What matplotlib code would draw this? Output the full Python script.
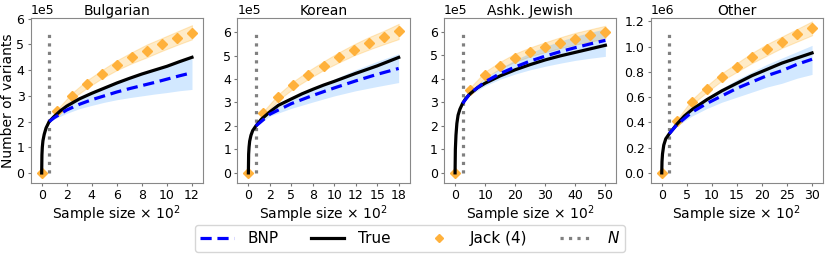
import matplotlib
matplotlib.use("Agg")
import matplotlib.pyplot as plt
from matplotlib.ticker import FormatStrFormatter
from matplotlib.lines import Line2D

# Valores (x en unidades de 10^2 muestras, y en unidades de escala)
titles = ["Bulgarian", "Korean", "Ashk. Jewish", "Other"]
scales = [1e5, 1e5, 1e5, 1e6]
n_train = [0.6, 0.875, 2.5, 1.5]

# Bulgarian
bul_true_x = [0, 0.02, 0.05, 0.1, 0.2, 0.35, 0.6, 1, 1.5, 2, 3, 4, 5, 6, 7, 8, 9, 10, 11, 12]
bul_true_y = [0, 0.7, 1.0, 1.25, 1.5, 1.75, 2.0, 2.2, 2.42, 2.6, 2.88, 3.1, 3.3, 3.5, 3.68, 3.85, 4.0, 4.15, 4.33, 4.5]
bul_bnp_x = [0.6, 1, 2, 3, 4, 5, 6, 7, 8, 9, 10, 11, 12]
bul_bnp_y = [2.0, 2.15, 2.45, 2.67, 2.85, 3.0, 3.15, 3.28, 3.4, 3.52, 3.65, 3.78, 3.9]
bul_bnp_lo = [2.0, 2.1, 2.32, 2.5, 2.63, 2.75, 2.85, 2.93, 3.0, 3.07, 3.13, 3.2, 3.25]
bul_bnp_hi = [2.0, 2.2, 2.6, 2.9, 3.12, 3.35, 3.55, 3.72, 3.9, 4.05, 4.2, 4.33, 4.45]
bul_jack_x = [0, 1.2, 2.4, 3.6, 4.8, 6.0, 7.2, 8.4, 9.6, 10.8, 12.0]
bul_jack_y = [0, 2.4, 3.0, 3.45, 3.85, 4.2, 4.5, 4.75, 5.0, 5.25, 5.45]
bul_band_x = [0.6, 1.2, 2.4, 3.6, 4.8, 6.0, 7.2, 8.4, 9.6, 10.8, 12.0]
bul_band_lo = [2.0, 2.33, 2.88, 3.3, 3.68, 4.0, 4.27, 4.5, 4.75, 4.98, 5.2]
bul_band_hi = [2.0, 2.45, 3.1, 3.6, 4.0, 4.38, 4.7, 5.0, 5.25, 5.5, 5.75]

# Korean
kor_true_x = [0, 0.03, 0.08, 0.15, 0.3, 0.5, 0.875, 1.5, 2.5, 3.5, 5, 6.25, 7.5, 8.75, 10, 11.25, 12.5, 13.75, 15, 16.25, 17.5]
kor_true_y = [0, 0.8, 1.1, 1.35, 1.6, 1.8, 2.0, 2.28, 2.6, 2.88, 3.15, 3.37, 3.56, 3.74, 3.9, 4.07, 4.24, 4.4, 4.56, 4.74, 4.92]
kor_bnp_x = [0.875, 2.5, 5, 7.5, 10, 12.5, 15, 17.5]
kor_bnp_y = [2.0, 2.5, 2.95, 3.3, 3.62, 3.92, 4.2, 4.45]
kor_bnp_lo = [2.0, 2.42, 2.75, 3.02, 3.28, 3.5, 3.68, 3.85]
kor_bnp_hi = [2.0, 2.6, 3.15, 3.6, 4.0, 4.4, 4.75, 5.08]
kor_jack_x = [0, 1.75, 3.5, 5.25, 7.0, 8.75, 10.5, 12.25, 14.0, 15.75, 17.5]
kor_jack_y = [0, 2.54, 3.22, 3.75, 4.17, 4.57, 4.93, 5.24, 5.53, 5.77, 6.03]
kor_band_x = [0.875, 1.75, 3.5, 5.25, 7.0, 8.75, 10.5, 12.25, 14.0, 15.75, 17.5]
kor_band_lo = [2.0, 2.45, 3.1, 3.6, 4.0, 4.38, 4.7, 5.0, 5.25, 5.48, 5.7]
kor_band_hi = [2.0, 2.62, 3.35, 3.9, 4.35, 4.75, 5.13, 5.47, 5.78, 6.05, 6.35]

# Ashk. Jewish
ash_true_x = [0, 0.1, 0.3, 0.6, 1.0, 1.6, 2.5, 3.5, 5, 7.5, 10, 15, 20, 25, 30, 35, 40, 45, 50]
ash_true_y = [0, 1.0, 1.6, 2.1, 2.45, 2.7, 2.95, 3.15, 3.36, 3.62, 3.81, 4.12, 4.38, 4.6, 4.8, 4.97, 5.12, 5.27, 5.42]
ash_bnp_x = [2.5, 5, 10, 15, 20, 25, 30, 35, 40, 45, 50]
ash_bnp_y = [2.95, 3.38, 3.87, 4.22, 4.5, 4.75, 4.96, 5.15, 5.32, 5.48, 5.63]
ash_bnp_lo = [2.95, 3.3, 3.7, 3.98, 4.2, 4.38, 4.53, 4.66, 4.78, 4.87, 4.95]
ash_bnp_hi = [2.95, 3.45, 4.02, 4.45, 4.8, 5.1, 5.37, 5.6, 5.8, 5.97, 6.12]
ash_jack_x = [0, 5, 10, 15, 20, 25, 30, 35, 40, 45, 50]
ash_jack_y = [0, 3.53, 4.17, 4.56, 4.89, 5.13, 5.33, 5.52, 5.70, 5.84, 5.97]
ash_band_x = [2.5, 5, 10, 15, 20, 25, 30, 35, 40, 45, 50]
ash_band_lo = [2.95, 3.45, 4.05, 4.42, 4.72, 4.95, 5.13, 5.3, 5.45, 5.58, 5.7]
ash_band_hi = [2.95, 3.62, 4.3, 4.72, 5.07, 5.33, 5.55, 5.76, 5.95, 6.1, 6.25]

# Other
oth_true_x = [0, 0.05, 0.15, 0.4, 0.8, 1.5, 3, 4.5, 6, 9, 12, 15, 18, 21, 24, 27, 30]
oth_true_y = [0, 0.09, 0.15, 0.22, 0.27, 0.31, 0.385, 0.45, 0.5, 0.58, 0.65, 0.71, 0.77, 0.82, 0.87, 0.91, 0.95]
oth_bnp_x = [1.5, 3, 6, 9, 12, 15, 18, 21, 24, 27, 30]
oth_bnp_y = [0.31, 0.38, 0.48, 0.55, 0.61, 0.67, 0.72, 0.77, 0.81, 0.86, 0.90]
oth_bnp_lo = [0.31, 0.37, 0.45, 0.51, 0.56, 0.6, 0.64, 0.68, 0.71, 0.75, 0.78]
oth_bnp_hi = [0.31, 0.39, 0.51, 0.6, 0.67, 0.74, 0.8, 0.86, 0.91, 0.96, 1.01]
oth_jack_x = [0, 3, 6, 9, 12, 15, 18, 21, 24, 27, 30]
oth_jack_y = [0, 0.41, 0.56, 0.667, 0.76, 0.84, 0.915, 0.98, 1.04, 1.10, 1.15]
oth_band_x = [1.5, 3, 6, 9, 12, 15, 18, 21, 24, 27, 30]
oth_band_lo = [0.31, 0.4, 0.54, 0.64, 0.73, 0.8, 0.87, 0.93, 0.99, 1.04, 1.09]
oth_band_hi = [0.31, 0.42, 0.58, 0.69, 0.79, 0.87, 0.95, 1.02, 1.08, 1.14, 1.2]

ylims = [(-0.39, 6.03), (-0.43, 6.6), (-0.43, 6.58), (-0.08, 1.227)]
xticks = [[0, 2, 4, 6, 8, 10, 12],
          [0, 2.5, 5, 7.5, 10, 12.5, 15, 17.5],
          [0, 10, 20, 30, 40, 50],
          [0, 5, 10, 15, 20, 25, 30]]
yticks = [[0, 1, 2, 3, 4, 5, 6],
          [0, 1, 2, 3, 4, 5, 6],
          [0, 1, 2, 3, 4, 5, 6],
          [0, 0.2, 0.4, 0.6, 0.8, 1.0, 1.2]]

panels = [
    (bul_true_x, bul_true_y, bul_bnp_x, bul_bnp_y, bul_bnp_lo, bul_bnp_hi, bul_jack_x, bul_jack_y, bul_band_x, bul_band_lo, bul_band_hi),
    (kor_true_x, kor_true_y, kor_bnp_x, kor_bnp_y, kor_bnp_lo, kor_bnp_hi, kor_jack_x, kor_jack_y, kor_band_x, kor_band_lo, kor_band_hi),
    (ash_true_x, ash_true_y, ash_bnp_x, ash_bnp_y, ash_bnp_lo, ash_bnp_hi, ash_jack_x, ash_jack_y, ash_band_x, ash_band_lo, ash_band_hi),
    (oth_true_x, oth_true_y, oth_bnp_x, oth_bnp_y, oth_bnp_lo, oth_bnp_hi, oth_jack_x, oth_jack_y, oth_band_x, oth_band_lo, oth_band_hi),
]

jack_color = "#ffb13b"

fig, axes = plt.subplots(1, 4, figsize=(8.3, 2.57), dpi=100)
plt.subplots_adjust(left=0.037, right=0.9916, top=0.930, bottom=0.288, wspace=0.2)

for i, ax in enumerate(axes):
    tx, ty, bx, by, blo, bhi, jx, jy, jbx, jlo, jhi = panels[i]
    s = scales[i]
    sc = lambda v: [val * s for val in v]

    ax.fill_between(jbx, sc(jlo), sc(jhi), color="orange", alpha=0.22, lw=0.8)
    ax.fill_between(bx, sc(blo), sc(bhi), color="dodgerblue", alpha=0.2, lw=0)
    ax.plot(jx, sc(jy), ls="none", marker="D", ms=5.5, color=jack_color, zorder=3)
    ax.plot(tx, sc(ty), color="black", lw=2.3, zorder=4)
    ax.plot(bx, sc(by), color="blue", lw=2.3, ls=(0, (3.5, 1.8)), zorder=5)
    ax.axvline(n_train[i], ymin=0.06, ymax=0.93, color="gray", ls=":", lw=2.3)

    ax.set_ylim(ylims[i][0] * s, ylims[i][1] * s)
    ax.set_yticks(sc(yticks[i]))
    ax.set_xticks(xticks[i])
    ax.margins(x=0.073)
    ax.xaxis.set_major_formatter(FormatStrFormatter("%.0f"))
    ax.ticklabel_format(axis="y", style="sci", scilimits=(0, 0))
    ax.tick_params(labelsize=9, length=2.5, pad=2, color="#777777")
    ax.yaxis.get_offset_text().set_fontsize(9)
    for sp in ax.spines.values():
        sp.set_color("#888888")
    ax.set_title(titles[i], fontsize=10, pad=2)
    ax.set_xlabel(r"Sample size $\times\ 10^2$", fontsize=10, labelpad=1)

axes[0].set_ylabel("Number of variants", fontsize=10, labelpad=1)

handles = [
    Line2D([], [], color="blue", lw=2.3, ls=(0, (3.5, 1.8))),
    Line2D([], [], color="black", lw=2.3),
    Line2D([], [], ls="none", marker="D", ms=4, color=jack_color),
    Line2D([], [], color="gray", ls=":", lw=2.3),
]
labels = ["BNP", "True", "Jack (4)", "$N$"]
fig.legend(handles, labels, loc="center", bbox_to_anchor=(0.494, 0.072), ncol=4,
           fontsize=11, handlelength=2.2, handletextpad=0.9, columnspacing=2.1,
           borderpad=0.35, frameon=True)

plt.savefig("out.png", dpi=100)
